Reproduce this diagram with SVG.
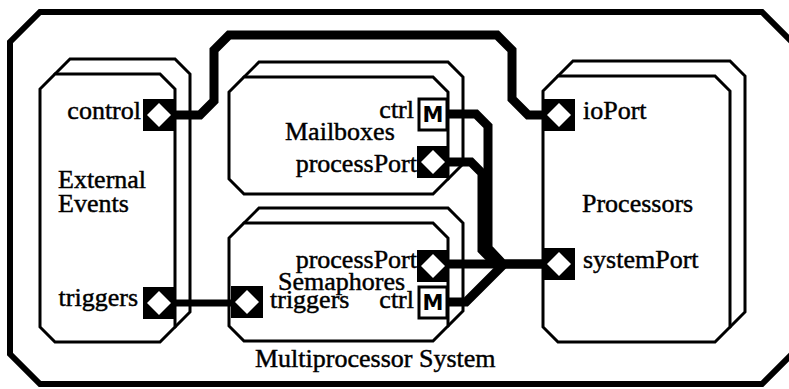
<svg xmlns="http://www.w3.org/2000/svg" width="789" height="389" viewBox="0 0 789 389">
  <style>
    .frame { fill: #fff; stroke: #000; stroke-width: 6; stroke-linejoin: miter; }
    .box { fill: #fff; stroke: #000; stroke-width: 3; stroke-linejoin: miter; }
    .wire { fill: none; stroke: #000; stroke-width: 9; stroke-linejoin: miter; stroke-linecap: butt; }
    .wire.thin { stroke-width: 7; }
    text { font-family: "Liberation Serif", "Times New Roman", serif; font-size: 26px; fill: #000; stroke: #000; stroke-width: 0.45; }
    .end { text-anchor: end; }
    .mark { font-family: "DejaVu Sans", "Liberation Sans", sans-serif; font-weight: bold; font-size: 21px; text-anchor: middle; stroke: none; }
  </style>
  <defs>
    <!-- relay/end port: black square with white diamond -->
    <g id="portDiamond">
      <rect x="-16" y="-16" width="32" height="32" fill="#000"/>
      <polygon points="0,-12 12,0 0,12 -12,0" fill="#fff"/>
    </g>
    <!-- message port marked M -->
    <g id="portM">
      <rect x="-14" y="-15" width="28" height="31" fill="#fff" stroke="#000" stroke-width="3"/>
      <text class="mark" x="0" y="8">M</text>
    </g>
  </defs>

  <!-- enclosing system -->
  <g id="multiprocessor-system">
    <polygon class="frame" points="40,12 762,12 792,42 792,354 762,384 40,384 10,354 10,42"/>
    <text x="255" y="367">Multiprocessor System</text>
  </g>

  <!-- External Events (replicated) -->
  <g id="external-events">
    <polygon class="box" points="70,59 175,59 190,74 190,312 175,327 70,327 55,312 55,74"/>
    <polygon class="box" points="55,74 160,74 175,89 175,327 160,342 55,342 40,327 40,89"/>
    <text x="58" y="188">External</text>
    <text x="58" y="212">Events</text>
    <text class="end" x="141" y="119">control</text>
    <text class="end" x="138" y="306">triggers</text>
  </g>

  <!-- Mailboxes (replicated) -->
  <g id="mailboxes">
    <polygon class="box" points="259,62 448,62 463,77 463,164 448,179 259,179 244,164 244,77"/>
    <polygon class="box" points="244,77 433,77 448,92 448,179 433,194 244,194 229,179 229,92"/>
    <text class="end" x="414" y="118">ctrl</text>
    <text x="285" y="140">Mailboxes</text>
    <text class="end" x="417" y="172">processPort</text>
  </g>

  <!-- Semaphores (replicated) -->
  <g id="semaphores">
    <polygon class="box" points="259,208 448,208 463,223 463,311 448,326 259,326 244,311 244,223"/>
    <polygon class="box" points="244,223 433,223 448,238 448,326 433,341 244,341 229,326 229,238"/>
    <text class="end" x="417" y="268">processPort</text>
    <text x="278" y="290">Semaphores</text>
    <text x="270" y="308">triggers</text>
    <text class="end" x="414" y="308">ctrl</text>
  </g>

  <!-- Processors (replicated) -->
  <g id="processors">
    <polygon class="box" points="573,61 730,61 745,76 745,312 730,327 573,327 558,312 558,76"/>
    <polygon class="box" points="558,76 715,76 730,91 730,327 715,342 558,342 543,327 543,91"/>
    <text x="583" y="119">ioPort</text>
    <text x="582" y="212">Processors</text>
    <text x="583" y="268">systemPort</text>
  </g>

  <!-- bindings between ports -->
  <g id="connectors">
    <path class="wire" d="M175,115 H200 L214,101 V50 L229,35 H497 L512,50 V99 L528,115 H543"/>
    <path class="wire thin" d="M175,303 H231"/>
    <path class="wire" d="M447,114 H476 L488,126 V248 L503,264 H543"/>
    <path class="wire" d="M447,162 H471 L482,173 V250 L496,264"/>
    <path class="wire" d="M447,264 H543"/>
    <path class="wire" d="M447,302 H466 L483,285 L504,264"/>
  </g>

  <!-- ports -->
  <g id="ports">
    <use href="#portDiamond" x="159" y="115"/>
    <use href="#portDiamond" x="159" y="303"/>
    <use href="#portM" x="433" y="114"/>
    <use href="#portDiamond" x="433" y="162"/>
    <use href="#portDiamond" x="433" y="266"/>
    <use href="#portDiamond" x="247" y="302"/>
    <use href="#portM" x="433" y="302"/>
    <use href="#portDiamond" x="559" y="115"/>
    <use href="#portDiamond" x="559" y="264"/>
  </g>
</svg>
